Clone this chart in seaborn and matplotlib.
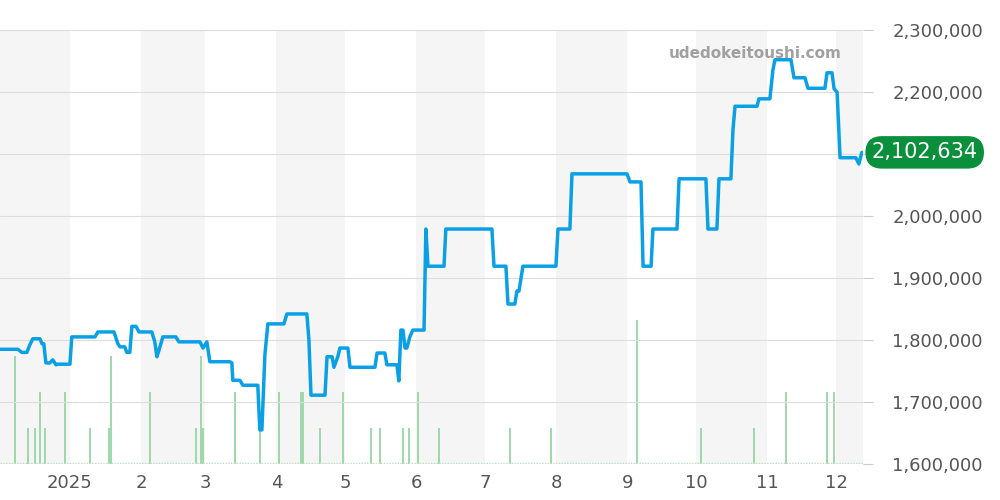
import matplotlib
matplotlib.use('Agg')
import matplotlib.pyplot as plt
import seaborn as sns
import pandas as pd

# price line: (day offset from 2024-12-01, price in yen)
price_points = [
    (0.5, 1785000), (8.3, 1785000), (10.0, 1780000), (12.2, 1780000), (13.5, 1792000),
    (14.8, 1802000), (17.9, 1802000), (18.8, 1794000), (19.6, 1794000), (20.5, 1763000),
    (22.2, 1763000), (23.5, 1768000), (24.9, 1760000), (25.7, 1761000), (31.0, 1761000),
    (31.8, 1805000), (41.9, 1805000), (43.2, 1813000), (50.2, 1813000), (51.9, 1794000),
    (52.8, 1789000), (54.9, 1789000), (55.8, 1780000), (57.1, 1780000), (58.0, 1822000),
    (59.8, 1822000), (61.1, 1813000), (66.7, 1813000), (68.0, 1797000), (68.9, 1773000),
    (69.7, 1782000), (71.5, 1805000), (77.2, 1805000), (78.5, 1797000), (87.7, 1797000),
    (89.0, 1787000), (90.7, 1797000), (92.0, 1765000), (100.7, 1765000), (101.6, 1763000),
    (102.0, 1735000), (105.1, 1735000), (106.4, 1727000), (112.9, 1727000), (113.8, 1655000),
    (114.7, 1655000), (116.0, 1776000), (117.3, 1826000), (124.3, 1826000), (125.6, 1842000),
    (134.3, 1842000), (135.2, 1800000), (136.1, 1711000), (142.2, 1711000), (143.1, 1773000),
    (145.3, 1773000), (146.1, 1756000), (147.8, 1773000), (148.7, 1787000), (152.2, 1787000),
    (153.1, 1756000), (164.0, 1756000), (164.9, 1779000), (168.3, 1779000), (169.2, 1760000),
    (173.6, 1760000), (174.4, 1734000), (175.3, 1816000), (176.2, 1816000), (177.1, 1787000),
    (177.9, 1787000), (179.2, 1805000), (180.5, 1816000), (185.4, 1816000), (186.2, 1979000),
    (187.1, 1919000), (194.1, 1919000), (194.9, 1979000), (215.0, 1979000), (215.9, 1919000),
    (221.1, 1919000), (222.0, 1858000), (225.0, 1858000), (225.9, 1879000), (226.8, 1879000),
    (228.5, 1919000), (242.9, 1919000), (243.8, 1979000), (249.0, 1979000), (249.9, 2068000),
    (273.9, 2068000), (275.2, 2055000), (280.0, 2055000), (280.9, 1919000), (284.4, 1919000),
    (285.2, 1979000), (295.7, 1979000), (296.6, 2060000), (308.3, 2060000), (309.2, 1979000),
    (313.1, 1979000), (314.0, 2060000), (319.2, 2060000), (320.1, 2139000), (321.0, 2177000),
    (330.6, 2177000), (331.4, 2189000), (336.2, 2189000), (337.5, 2235000), (338.4, 2252000),
    (345.4, 2252000), (346.7, 2223000), (351.5, 2223000), (352.8, 2206000), (360.2, 2206000),
    (361.1, 2231000), (363.3, 2231000), (364.2, 2205000), (365.5, 2200000), (366.8, 2094000),
    (373.7, 2094000), (375.0, 2084000), (376.3, 2102634),
]
price_days = [p[0] for p in price_points]
prices = [p[1] for p in price_points]

# transaction counts
vol_days = [7, 12.7, 15.7, 17.9, 20, 28.8, 39.7, 48, 48.8, 65.9, 85.9, 88, 88.9, 103, 113.8, 122.1,
            131.7, 132.6, 140, 150, 162.2, 166.1, 176.2, 178.8, 182.7, 191.9, 222.9, 240.8, 278.3,
            306.2, 329.3, 343.3, 361.2, 364.2]
vol_counts = [3, 1, 1, 2, 1, 2, 1, 1, 3, 2, 1, 3, 1, 2, 1, 2, 2, 2, 1, 2, 1, 1, 1, 1, 2, 1, 1, 1, 4,
              1, 1, 2, 2, 2]

start = pd.Timestamp('2024-12-01')
df = pd.DataFrame({'date': start + pd.to_timedelta(price_days, unit='D'), 'price': prices})
vdf = pd.DataFrame({'date': start + pd.to_timedelta(vol_days, unit='D'), 'count': vol_counts})

sns.set_style('white')
plt.rcParams['font.family'] = ['DejaVu Sans']
fig = plt.figure(figsize=(10, 5), dpi=100)
ax = fig.add_axes([0, 0.072, 0.863, 0.868])
ax2 = ax.twinx()

# alternating month bands
for m in ['2024-12-01', '2025-02-01', '2025-04-01', '2025-06-01', '2025-08-01', '2025-10-01', '2025-12-01']:
    a = pd.Timestamp(m)
    ax.axvspan(a, a + pd.offsets.MonthBegin(1), color='#f5f5f5', lw=0, zorder=0)

# volume bars on the hidden left axis
ax.vlines(vdf['date'], 0, vdf['count'], color='#8fd19e', lw=1.2, zorder=1)
ax.axhline(0.03, color='#b8e0c0', lw=1, ls=(0, (1, 1)), zorder=1)
ax.set_ylim(0, 12.05)
ax.set_yticks([])

sns.lineplot(data=df, x='date', y='price', ax=ax2, color='#0aa0e6', lw=2.5)
ax2.set_ylim(1600000, 2300000)
yt = list(range(1600000, 2300001, 100000))
ax2.set_yticks(yt)
# the 2,100,000 label sits under the last-price badge
ax2.set_yticklabels(['' if v == 2100000 else f'{v:,}' for v in yt], fontsize=13, color='#555555')
ax2.tick_params(axis='y', length=7, color='#cccccc', pad=14)
ax2.grid(axis='y', color='#dddddd', lw=0.8)
ax2.set_xlabel('')
ax2.set_ylabel('')

ax.set_xlim(start + pd.Timedelta(days=0.5), start + pd.Timedelta(days=376.8))
ticks = pd.date_range('2025-01-01', '2025-12-01', freq='MS')
ax.set_xticks(ticks)
ax.set_xticklabels(['2025'] + [str(t.month) for t in ticks[1:]], fontsize=13, color='#555555')
ax.tick_params(axis='x', length=4, color='#cccccc')
for s in ['top', 'left', 'right', 'bottom']:
    ax.spines[s].set_visible(False)
    ax2.spines[s].set_visible(False)

ax2.text(0.975, 0.945, 'udedokeitoushi.com', transform=ax2.transAxes, ha='right', va='center',
         fontsize=11, fontweight='bold', color='#a0a0a0')
ax2.text(1.01, (prices[-1] - 1600000) / 700000, f'{prices[-1]:,}', transform=ax2.transAxes,
         ha='left', va='center', fontsize=15, color='white', zorder=10,
         bbox=dict(boxstyle='round,pad=0.3,rounding_size=0.8', fc='#0a8f3c', ec='none'))

fig.savefig('out.png', dpi=100)
